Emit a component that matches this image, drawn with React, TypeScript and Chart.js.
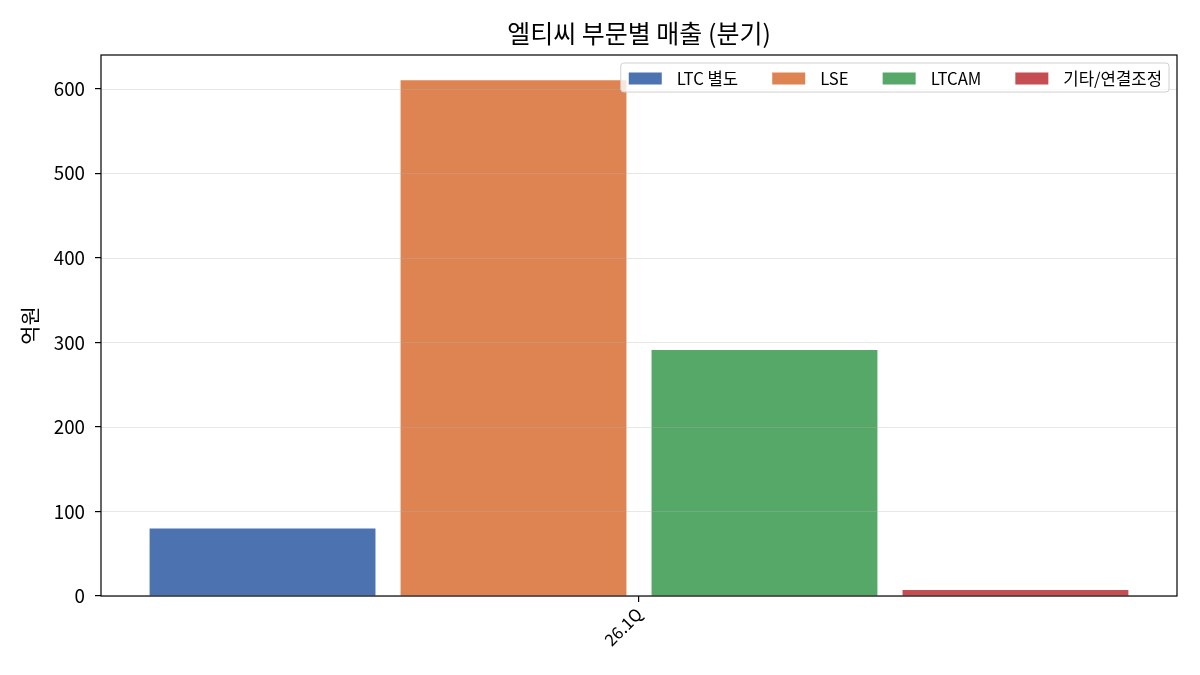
import { useEffect, useRef } from 'react';
import { Chart, registerables } from 'chart.js';

Chart.register(...registerables);

const FONT = '"Noto Sans CJK KR", "Noto Sans", sans-serif';

const CATEGORIES = ['26.1Q'];
const SERIES_NAMES = ['LTC 별도', 'LSE', 'LTCAM', '기타/연결조정'];
const SERIES_COLORS = ['#4c72b0', '#dd8452', '#55a868', '#c44e52'];
const LTC_VALUES = [80];
const LSE_VALUES = [610];
const LTCAM_VALUES = [291];
const OTHER_VALUES = [7];
const Y_TICKS = [0, 100, 200, 300, 400, 500, 600];

const TITLE = '엘티씨 부문별 매출 (분기)';
const Y_LABEL = '억원';

// frame, grid over bars, title and in-plot legend (matplotlib look)
const decorPlugin = {
  id: 'decor',
  afterDatasetsDraw(chart: any) {
    const { ctx, chartArea } = chart;
    const y = chart.scales.y;
    ctx.save();
    ctx.strokeStyle = 'rgba(176,176,176,0.3)';
    ctx.lineWidth = 1;
    y.ticks.forEach((t: any) => {
      const py = Math.round(y.getPixelForValue(t.value)) + 0.5;
      ctx.beginPath();
      ctx.moveTo(chartArea.left, py);
      ctx.lineTo(chartArea.right, py);
      ctx.stroke();
    });
    ctx.restore();
  },
  afterDraw(chart: any) {
    const { ctx, chartArea } = chart;
    ctx.save();
    // frame
    ctx.strokeStyle = '#000';
    ctx.lineWidth = 1.2;
    ctx.strokeRect(chartArea.left, chartArea.top, chartArea.right - chartArea.left, chartArea.bottom - chartArea.top);

    // title
    ctx.fillStyle = '#000';
    ctx.font = `25px ${FONT}`;
    ctx.textAlign = 'center';
    ctx.textBaseline = 'middle';
    ctx.fillText(TITLE, (chartArea.left + chartArea.right) / 2, 33);

    // legend
    ctx.font = `16.7px ${FONT}`;
    const patchW = 33, patchH = 12, patchGap = 15, colGap = 34, padL = 8, padR = 7;
    const datasets = chart.data.datasets;
    const widths = datasets.map((d: any) => ctx.measureText(d.label).width);
    const total = padL + padR + widths.reduce((a: number, w: number) => a + patchW + patchGap + w, 0) + colGap * (datasets.length - 1);
    const boxH = 29;
    const boxR = chartArea.right - 8;
    const boxL = boxR - total;
    const boxT = chartArea.top + 8;
    ctx.fillStyle = 'rgba(255,255,255,0.8)';
    ctx.strokeStyle = '#d0d0d0';
    ctx.lineWidth = 1;
    ctx.beginPath();
    (ctx as any).roundRect(boxL, boxT, total, boxH, 3);
    ctx.fill();
    ctx.stroke();
    let x = boxL + padL;
    const cy = boxT + boxH / 2 + 1;
    ctx.textAlign = 'left';
    ctx.textBaseline = 'middle';
    datasets.forEach((d: any, i: number) => {
      ctx.fillStyle = d.backgroundColor;
      ctx.fillRect(x, cy - patchH / 2, patchW, patchH);
      ctx.fillStyle = '#000';
      ctx.fillText(d.label, x + patchW + patchGap, cy);
      x += patchW + patchGap + widths[i] + colGap;
    });
    ctx.restore();
  },
};

export default function App() {
  const canvasRef = useRef<HTMLCanvasElement | null>(null);

  useEffect(() => {
    document.body.style.margin = '0';
    if (!canvasRef.current) return;
    const values = [LTC_VALUES, LSE_VALUES, LTCAM_VALUES, OTHER_VALUES];
    const chart = new Chart(canvasRef.current, {
      type: 'bar',
      data: {
        labels: CATEGORIES,
        datasets: SERIES_NAMES.map((name, i) => ({
          label: name,
          data: values[i],
          backgroundColor: SERIES_COLORS[i],
          borderWidth: 0,
          categoryPercentage: 0.933,
          barPercentage: 0.9,
        })),
      },
      options: {
        responsive: false,
        animation: false,
        devicePixelRatio: 1,
        layout: { padding: { top: 55, right: 23, left: 0, bottom: 0 } },
        plugins: {
          legend: { display: false },
          title: { display: false },
          tooltip: { enabled: false },
        },
        scales: {
          x: {
            grid: { offset: false, drawOnChartArea: false, tickColor: '#000', tickLength: 6, lineWidth: 1.2 },
            border: { display: false },
            ticks: {
              color: '#000',
              font: { family: FONT, size: 16.7 },
              minRotation: 45,
              maxRotation: 45,
              padding: 2,
            },
            afterFit(scale: any) { scale.height = 79; },
          },
          y: {
            min: 0,
            max: 640,
            grid: { drawOnChartArea: false, tickColor: '#000', tickLength: 6, lineWidth: 1.2 },
            border: { display: false },
            ticks: {
              stepSize: 100,
              color: '#000',
              font: { family: FONT, size: 18.75 },
              padding: 10,
            },
            afterBuildTicks(scale: any) {
              scale.ticks = Y_TICKS.map((v) => ({ value: v }));
            },
            title: {
              display: true,
              text: Y_LABEL,
              color: '#000',
              font: { family: FONT, size: 20.8 },
              padding: { top: 18, bottom: 0 },
            },
            afterFit(scale: any) { scale.width = 101; },
          },
        },
      },
      plugins: [decorPlugin],
    } as any);
    return () => chart.destroy();
  }, []);

  return (
    <div style={{ width: 1200, height: 675, background: '#fff' }}>
      <canvas ref={canvasRef} width={1200} height={675} />
    </div>
  );
}
